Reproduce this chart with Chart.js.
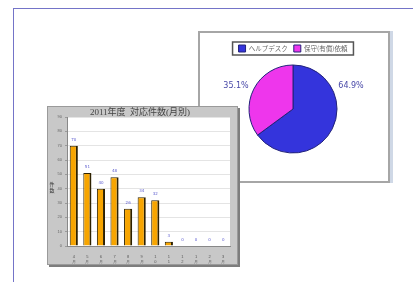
<!DOCTYPE html>
<html>
<head>
<meta charset="utf-8">
<script src="https://cdn.jsdelivr.net/npm/chart.js@4.4.0/dist/chart.umd.min.js"></script>
<style>
body { margin:0; background:#fff; width:413px; height:282px; overflow:hidden; position:relative; font-family:'Noto Sans CJK JP', sans-serif; }
#frame { position:absolute; left:13px; top:8px; width:420px; height:300px; border-left:1px solid #7474c8; border-top:1px solid #7474c8; }
#piePanel { position:absolute; left:198px; top:31px; width:188px; height:148px; border:2px solid #a6a6a6; background:#fff; box-shadow:3px 0 0 #cfd8e6; }
#barPanel { position:absolute; left:47px; top:106px; width:189px; height:157px; background:#c8c8c8; border:1px solid #9a9a9a; box-shadow:2px 2px 0 #7d7d7d; }
canvas { display:block; }
</style>
</head>
<body>
<div id="frame"></div>
<div id="piePanel"><canvas id="pieChart" width="188" height="148"></canvas></div>
<div id="barPanel"><canvas id="barChart" width="189" height="157"></canvas></div>
<script>
// 月別の対応件数
var months = ['4月','5月','6月','7月','8月','9月','10月','11月','12月','1月','2月','3月']
var counts = [70, 51, 40, 48, 26, 34, 32, 3, 0, 0, 0, 0]
var yMax = 90
var yStep = 10
var barTitle = '2011年度  対応件数(月別)'
var yTitle = '件数'

// 依頼の内訳
var pieLabels = ['ヘルプデスク', '保守(有償)依頼']
var pieShares = [64.9, 35.1]
var pieColors = ['#3434dc', '#ee36ec']

// 縦書きのラベル (1文字ずつ改行)
var monthLabels = months.map(function (m) { return m.split('') })

var plotBg = {
    id: 'plotBg',
    beforeDraw: function (chart) {
        var a = chart.chartArea
        var ctx = chart.ctx
        ctx.save()
        ctx.fillStyle = '#ffffff'
        ctx.fillRect(a.left, a.top, a.right - a.left, a.bottom - a.top)
        ctx.restore()
    }
}

var barExtras = {
    id: 'barExtras',
    afterDatasetsDraw: function (chart) {
        var ctx = chart.ctx
        var bars = chart.getDatasetMeta(0).data
        ctx.save()
        ctx.fillStyle = '#6060d0'
        ctx.font = '4px "DejaVu Sans"'
        ctx.textAlign = 'center'
        ctx.textBaseline = 'bottom'
        bars.forEach(function (bar, i) {
            ctx.fillText(String(counts[i]), bar.x, bar.y - 4)
        })
        // 縦軸タイトル
        ctx.fillStyle = '#333'
        ctx.font = '5px "Noto Sans CJK JP"'
        ctx.textBaseline = 'middle'
        var mid = (chart.chartArea.top + chart.chartArea.bottom) / 2 + 6
        yTitle.split('').forEach(function (c, i) {
            ctx.fillText(c, 4, mid - 3 + i * 6)
        })
        ctx.restore()
    }
}

new Chart(document.getElementById('barChart'), {
    type: 'bar',
    data: {
        labels: monthLabels,
        datasets: [{
            data: counts,
            backgroundColor: '#f7a500',
            borderColor: '#2e2200',
            borderWidth: { left: 1, right: 2, top: 1, bottom: 0 },
            borderSkipped: false,
            barPercentage: 0.6,
            categoryPercentage: 1
        }]
    },
    options: {
        responsive: false,
        animation: false,
        layout: { padding: { left: 2, right: 7, top: 0, bottom: 0 } },
        plugins: {
            legend: { display: false },
            tooltip: { enabled: false },
            title: {
                display: true,
                text: barTitle,
                color: '#444',
                font: { family: "'Liberation Serif', 'Noto Sans CJK JP'", size: 9, weight: 'normal', lineHeight: 1 },
                padding: { top: 1, bottom: 0 }
            }
        },
        scales: {
            x: {
                grid: { display: false },
                border: { color: '#888' },
                ticks: { color: '#555', font: { size: 4, lineHeight: 1.15 }, padding: 1, maxRotation: 0, autoSkip: false },
                afterFit: function (s) { s.height = 18 }
            },
            y: {
                min: 0,
                max: yMax,
                ticks: { stepSize: yStep, color: '#666', font: { size: 4 }, padding: 3 },
                grid: { color: '#e4e4e4', tickLength: 2, tickColor: '#999' },
                border: { color: '#888' },
                afterFit: function (s) { s.width = 17 }
            }
        }
    },
    plugins: [plotBg, barExtras]
})

var pieExtras = {
    id: 'pieExtras',
    afterDraw: function (chart) {
        var ctx = chart.ctx
        var boxes = chart.legend.legendHitBoxes
        var x0 = Math.min.apply(null, boxes.map(function (b) { return b.left }))
        var x1 = Math.max.apply(null, boxes.map(function (b) { return b.left + b.width }))
        var y0 = Math.min.apply(null, boxes.map(function (b) { return b.top }))
        var y1 = Math.max.apply(null, boxes.map(function (b) { return b.top + b.height }))
        ctx.save()
        ctx.strokeStyle = '#555'
        ctx.lineWidth = 1.5
        ctx.strokeRect(x0 - 6, y0 - 3, x1 - x0 + 12, y1 - y0 + 6)
        // パーセント表示
        var arc = chart.getDatasetMeta(0).data[0]
        var r = arc.outerRadius
        ctx.fillStyle = '#4848a8'
        ctx.font = '8px "DejaVu Sans"'
        ctx.textAlign = 'center'
        ctx.textBaseline = 'middle'
        ctx.fillText(pieShares[0].toFixed(1) + '%', arc.x + r + 14, arc.y - r * 0.52)
        ctx.fillText(pieShares[1].toFixed(1) + '%', arc.x - r - 13, arc.y - r * 0.52)
        ctx.restore()
    }
}

new Chart(document.getElementById('pieChart'), {
    type: 'pie',
    data: {
        labels: pieLabels,
        datasets: [{
            data: pieShares,
            backgroundColor: pieColors,
            borderColor: '#22227a',
            borderWidth: 1,
            radius: 44
        }]
    },
    options: {
        responsive: false,
        animation: false,
        layout: { padding: { left: 0, right: 2, top: 6, bottom: 25 } },
        plugins: {
            tooltip: { enabled: false },
            legend: {
                position: 'top',
                labels: {
                    boxWidth: 7,
                    boxHeight: 7,
                    padding: 6,
                    color: '#666',
                    font: { family: "'Noto Sans CJK JP'", size: 6.5 }
                }
            }
        }
    },
    plugins: [pieExtras]
})
</script>
</body>
</html>
